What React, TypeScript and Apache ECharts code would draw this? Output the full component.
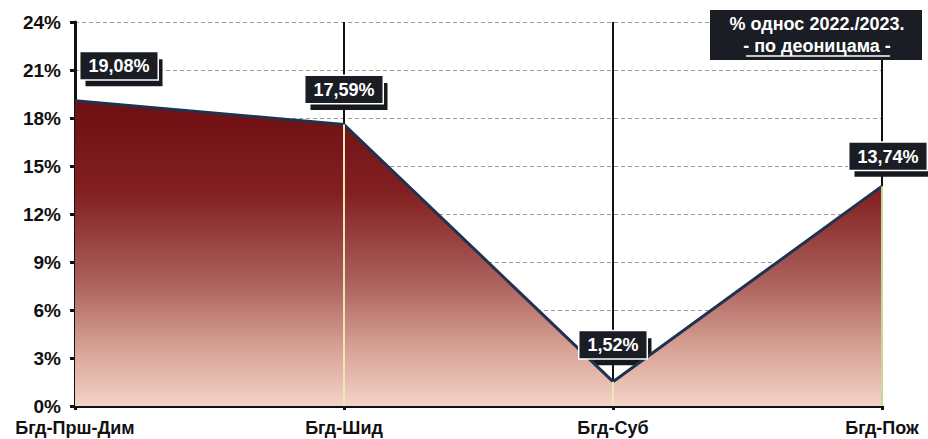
import React, { useEffect, useRef } from "react";
import * as echarts from "echarts";

const categories = ["Бгд-Прш-Дим", "Бгд-Шид", "Бгд-Суб", "Бгд-Пож"];
const values = [19.08, 17.59, 1.52, 13.74];
const titleLine1 = "% однос 2022./2023.";
const titleLine2 = "- по деоницама -";

// label placement styles (pixels), not data
const labelOffsets: [number, number][] = [
  [44, -21],
  [0, -21],
  [0, -23],
  [6, -16],
];
const innerLineColors = ["#efe6b8", "#efe6b8", "#efe6b8", "#c9d79a"];

const fmt = (v: number) => v.toFixed(2).replace(".", ",") + "%";

export default function App() {
  const ref = useRef<HTMLDivElement>(null);
  useEffect(() => {
    if (!ref.current) return;
    const chart = echarts.init(ref.current, null, { renderer: "svg" });
    const font = "Liberation Sans, Arial, sans-serif";
    const labelFont = `bold 18px ${font}`;
    const ctx = document.createElement("canvas").getContext("2d");
    const measure = (t: string) => {
      if (!ctx) return 61;
      ctx.font = labelFont;
      return ctx.measureText(t).width;
    };
    const labelBase = {
      show: true,
      position: "top",
      distance: 0,
      fontFamily: font,
      fontWeight: "bold",
      fontSize: 18,
      lineHeight: 18,
      padding: [5, 8, 4, 8],
    };
    chart.setOption({
      animation: false,
      backgroundColor: "#ffffff",
      grid: { left: 75, right: 46, top: 22, bottom: 33, containLabel: false },
      xAxis: {
        type: "category",
        data: categories,
        boundaryGap: false,
        axisLine: { show: true, lineStyle: { color: "#111", width: 3 } },
        axisTick: { show: true, length: 4, lineStyle: { color: "#111", width: 3 } },
        axisLabel: {
          color: "#111",
          fontFamily: font,
          fontWeight: "bold",
          fontSize: 18,
          margin: 13,
        },
        splitLine: { show: true, lineStyle: { color: "#111", width: 2 } },
      },
      yAxis: {
        type: "value",
        min: 0,
        max: 24,
        interval: 3,
        axisLine: { show: true, lineStyle: { color: "#111", width: 3 } },
        axisTick: { show: true, length: 5, lineStyle: { color: "#111", width: 3 } },
        axisLabel: {
          formatter: "{value}%",
          color: "#111",
          fontFamily: font,
          fontWeight: "bold",
          fontSize: 19,
          margin: 14,
        },
        splitLine: { show: true, lineStyle: { color: "#9a9a9a", width: 1, type: [4, 3] } },
      },
      series: [
        {
          type: "line",
          data: values,
          symbol: "circle",
          symbolSize: 1,
          showSymbol: true,
          itemStyle: { color: "#1f3350" },
          lineStyle: { color: "#1f3350", width: 3 },
          areaStyle: {
            opacity: 1,
            color: new echarts.graphic.LinearGradient(0, 0, 0, 1, [
              { offset: 0, color: "#6e0f12" },
              { offset: 0.3, color: "#821f21" },
              { offset: 0.6, color: "#ad625d" },
              { offset: 0.82, color: "#d9a497" },
              { offset: 1, color: "#f4d2c8" },
            ]),
          },
          label: {
            ...labelBase,
            formatter: (p: any) => fmt(p.value),
            color: "#ffffff",
            backgroundColor: "#1b1d24",
            borderColor: "#ffffff",
            borderWidth: 1.5,
          },
          labelLayout: (p: any) => ({
            dx: labelOffsets[p.dataIndex][0],
            dy: labelOffsets[p.dataIndex][1],
          }),
          markLine: {
            silent: true,
            symbol: "none",
            label: { show: false },
            data: values
              .map((v, i) => [
                { coord: [i, 0], lineStyle: { color: innerLineColors[i], width: 2, type: "solid" } },
                { coord: [i, v] },
              ])
              .slice(1),
          },
          z: 4,
        },
        {
          // drop shadow of the value boxes
          type: "line",
          data: values.map((v) => ({
            value: v,
            label: { width: Math.round(measure(fmt(v))) },
          })),
          symbol: "circle",
          symbolSize: 1,
          showSymbol: true,
          itemStyle: { color: "rgba(0,0,0,0)" },
          lineStyle: { color: "rgba(0,0,0,0)", width: 0 },
          label: {
            ...labelBase,
            formatter: () => " ",
            height: 18,
            color: "#17181e",
            backgroundColor: "#17181e",
          },
          labelLayout: (p: any) => ({
            dx: labelOffsets[p.dataIndex][0] + 5,
            dy: labelOffsets[p.dataIndex][1] + 7,
          }),
          z: 3,
          silent: true,
        },
      ],
      graphic: [
        {
          type: "group",
          left: 710,
          top: 10,
          z: 100,
          children: [
            {
              type: "rect",
              z: 100,
              shape: { x: 0, y: 0, width: 212, height: 50 },
              style: { fill: "#1b1d24" },
            },
            {
              type: "text",
              z: 101,
              x: 107,
              y: 14,
              style: {
                text: titleLine1,
                fill: "#ffffff",
                font: `bold 18px ${font}`,
                align: "center",
                verticalAlign: "middle",
              },
            },
            {
              type: "text",
              z: 101,
              x: 107,
              y: 36,
              style: {
                text: titleLine2,
                fill: "#ffffff",
                font: `bold 18px ${font}`,
                align: "center",
                verticalAlign: "middle",
              },
            },
            {
              type: "line",
              z: 101,
              shape: { x1: 36, y1: 46, x2: 180, y2: 46 },
              style: { stroke: "#ffffff", lineWidth: 1.5 },
            },
          ],
        },
      ],
    });
    return () => chart.dispose();
  }, []);
  return <div ref={ref} style={{ width: 928, height: 439, position: "absolute", left: 0, top: 0 }} />;
}
